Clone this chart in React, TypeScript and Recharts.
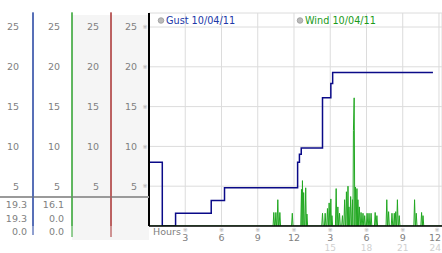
import { LineChart, Line, XAxis, YAxis, CartesianGrid } from 'recharts';

const FONT = '"DejaVu Sans", Verdana, sans-serif';
const TEXT = '#808080';

const gustName = 'Gust 10/04/11';
const windName = 'Wind 10/04/11';

// gust steps (hour of change, speed after it)
const gustHours = [0, 1.1, 2.2, 5.15, 6.25, 12.3, 12.45, 12.6, 14.36, 15.05, 15.2, 23.5];
const gustSpeeds = [8, 0, 1.6, 3.2, 4.8, 8.0, 9.0, 9.8, 16.1, 17.9, 19.3, 19.3];

// wind spikes, zero between them
const windHours = [
  10.33, 10.5, 10.66, 10.83, 11.86,
  12.62, 12.7, 12.8, 12.97, 13.07,
  14.36, 14.58, 14.77, 14.91, 15.05, 15.14, 15.49, 15.63, 15.77, 16.01,
  16.19, 16.34, 16.47, 16.55, 16.69, 16.84, 16.92, 16.98, 17.09, 17.21,
  17.29, 17.41, 17.55, 17.71, 17.85, 18.05, 18.21, 18.38, 18.72, 18.86,
  19.68, 19.83, 20.11, 20.3, 20.42, 20.56, 20.71,
  21.98, 22.12, 22.56, 22.68,
];
const windSpeeds = [
  1.7, 1.7, 3.3, 1.7, 1.6,
  4.6, 5.7, 4.2, 4.8, 1.5,
  1.6, 1.6, 2.2, 2.9, 3.4, 1.3, 4.7, 2.4, 1.6, 1.3,
  3.3, 4.3, 5.0, 2.4, 3.7, 3.3, 12.0, 16.1, 4.9, 4.7,
  3.3, 2.4, 1.7, 1.6, 1.3, 1.6, 1.6, 1.6, 1.7, 1.3,
  3.3, 1.8, 1.6, 1.6, 1.8, 3.3, 1.3,
  3.3, 1.6, 1.7, 1.3,
];

const yTicks = [5, 10, 15, 20, 25];
const hourTicks = [0, 3, 6, 9, 12, 15, 18, 21, 24];

const gustData = gustHours.map((h, i) => ({ h, gust: gustSpeeds[i] }));

function buildWind() {
  const rows: { h: number; wind: number }[] = [{ h: 0, wind: 0 }];
  windHours.forEach((h, i) => {
    const prev = i > 0 ? windHours[i - 1] : -1;
    const next = i < windHours.length - 1 ? windHours[i + 1] : 99;
    if (h - prev > 0.12) rows.push({ h: h - 0.06, wind: 0 });
    rows.push({ h, wind: windSpeeds[i] });
    if (next - h > 0.12) rows.push({ h: h + 0.06, wind: 0 });
    else if (next - h > 0.07) rows.push({ h: (h + next) / 2, wind: 0 });
  });
  rows.push({ h: 24.25, wind: 0 });
  return rows;
}
const windData = buildWind();

const stats = (v: number[]) => [Math.max(...v), v[v.length - 1], Math.min(...v)];
const gustStats = stats(gustSpeeds);
const windStats = stats(windData.map((r) => r.wind));

// left axes, nearest the plot first
const axes = [
  { id: 0, width: 38, color: '#000', sw: 2, margin: 12, mark: true },
  { id: 1, width: 39, color: '#a83030', sw: 1, margin: 12, mark: false },
  { id: 2, width: 39, color: '#2ca02c', sw: 1, margin: 12, mark: false },
  { id: 3, width: 33, color: '#2040a0', sw: 1, margin: 14, mark: false },
];

function YTick(props: any) {
  const { x, y, payload, mark } = props;
  return (
    <g>
      <text x={x} y={y} dy="0.35em" textAnchor="end" fill={TEXT} fontSize={9.5} fontFamily={FONT}>
        {payload.value}
      </text>
      {mark && (
        <text x={x + 8} y={y} dy="0.35em" textAnchor="middle" fill="#aaa" fontSize={6} fontFamily={FONT}>
          ※
        </text>
      )}
    </g>
  );
}

function HourTick(props: any) {
  const { x, y, payload } = props;
  const v = payload.value as number;
  if (v === 0) {
    return (
      <text x={x + 4} y={y + 5.5} dy="0.35em" fill={TEXT} fontSize={9.5} fontFamily={FONT}>
        Hours
      </text>
    );
  }
  const atEdge = x > 434;
  const tx = atEdge ? 441 : x;
  const anchor = atEdge ? 'end' : 'middle';
  return (
    <g>
      <text x={Math.min(x, 437)} y={y + 4} dy="0.35em" textAnchor="middle" fill="#aaa" fontSize={6} fontFamily={FONT}>
        ※
      </text>
      <text x={tx} y={y + 12} dy="0.35em" textAnchor={anchor} fill={TEXT} fontSize={9.5} fontFamily={FONT}>
        {v > 12 ? v - 12 : v}
      </text>
      {v > 12 && (
        <text x={tx} y={y + 21.5} dy="0.35em" textAnchor={anchor} fill="#d0d0d0" fontSize={9} fontFamily={FONT}>
          {v}
        </text>
      )}
    </g>
  );
}

export default function App() {
  const txt = { fontSize: 9.5, fontFamily: FONT, fill: TEXT };
  return (
    <div style={{ position: 'absolute', left: 0, top: 0, width: 442, height: 253, background: '#fff' }}>
      <svg width={442} height={253} style={{ position: 'absolute', left: 0, top: 0 }}>
        <rect x={72} y={15} width={77} height={225} fill="#f5f5f5" />
      </svg>
      <LineChart width={442} height={253} margin={{ top: 13, right: 0, bottom: 0, left: 0 }}>
        <CartesianGrid stroke="#dcdcdc" />
        <XAxis
          dataKey="h"
          type="number"
          domain={[0, 24.25]}
          ticks={hourTicks}
          interval={0}
          height={27}
          tickLine={false}
          tickSize={0}
          tickMargin={0}
          axisLine={{ stroke: '#000', strokeWidth: 1.5 }}
          tick={<HourTick />}
          allowDataOverflow
        />
        {axes.map((a) => (
          <YAxis
            key={a.id}
            yAxisId={a.id}
            orientation="left"
            type="number"
            domain={[0, 26.76]}
            ticks={yTicks}
            width={a.width}
            tickLine={false}
            tickSize={0}
            tickMargin={a.margin}
            axisLine={{ stroke: a.color, strokeWidth: a.sw }}
            tick={<YTick mark={a.mark} />}
            allowDataOverflow
          />
        ))}
        <Line
          yAxisId={0}
          data={gustData}
          dataKey="gust"
          type="stepAfter"
          stroke="#0a0a88"
          strokeWidth={1.5}
          dot={false}
          isAnimationActive={false}
        />
        <Line
          yAxisId={0}
          data={windData}
          dataKey="wind"
          type="linear"
          stroke="#22a822"
          strokeWidth={1}
          dot={false}
          isAnimationActive={false}
        />
      </LineChart>
      <svg width={442} height={253} style={{ position: 'absolute', left: 0, top: 0, pointerEvents: 'none' }}>
        <line x1={0} x2={149} y1={197} y2={197} stroke="#9a9a9a" strokeWidth={2} />
        <line x1={33} x2={33} y1={12} y2={235} stroke="#2040a0" />
        <line x1={72} x2={72} y1={12} y2={237} stroke="#2ca02c" />
        <line x1={111} x2={111} y1={12} y2={237} stroke="#a83030" />
        {gustStats.map((v, i) => (
          <text key={'g' + i} x={27} y={204.5 + i * 13.7} dy="0.35em" textAnchor="end" {...txt}>
            {v.toFixed(1)}
          </text>
        ))}
        {windStats.map((v, i) => (
          <text key={'w' + i} x={64} y={204.5 + i * 13.7} dy="0.35em" textAnchor="end" {...txt}>
            {v.toFixed(1)}
          </text>
        ))}
        <circle cx={161} cy={20.5} r={2.8} fill="#bbb" stroke="#999" strokeWidth={0.8} />
        <text x={166} y={20.5} dy="0.35em" fontSize={9.7} fontFamily={FONT} fill="#2038a8">
          {gustName}
        </text>
        <circle cx={300} cy={20.5} r={2.8} fill="#bbb" stroke="#999" strokeWidth={0.8} />
        <text x={305} y={20.5} dy="0.35em" fontSize={9.7} fontFamily={FONT} fill="#1a9a1a">
          {windName}
        </text>
      </svg>
    </div>
  );
}
